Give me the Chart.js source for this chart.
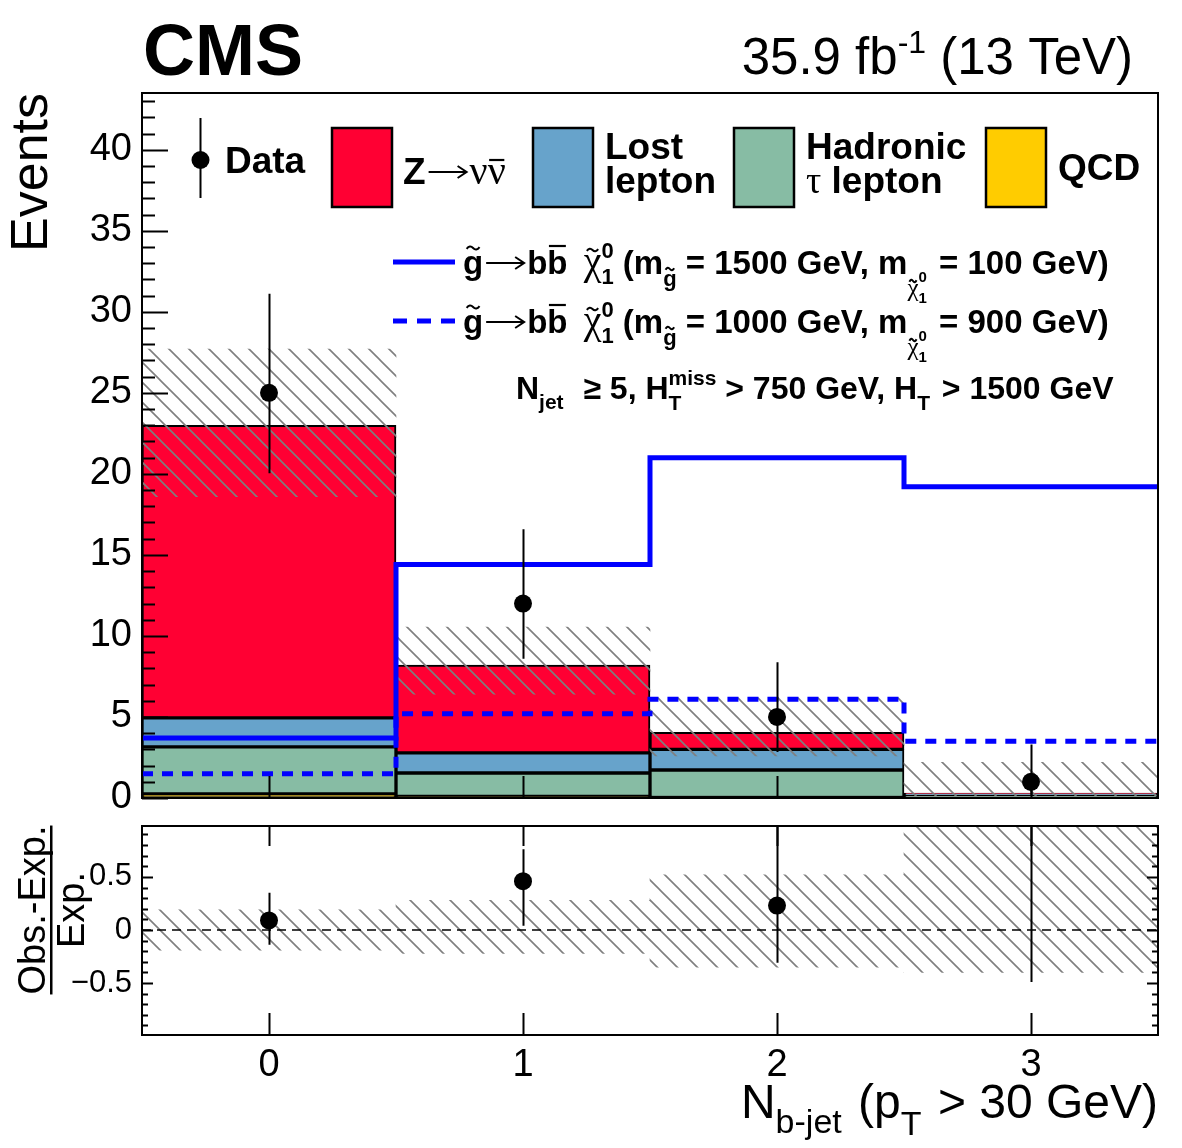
<!DOCTYPE html>
<html>
<head>
<meta charset="utf-8">
<title>N b-jet</title>
<script src="https://cdn.jsdelivr.net/npm/chart.js@4.4.1/dist/chart.umd.min.js"></script>
<style>
  body { margin: 0; background: #fff; }
  #wrap { position: relative; width: 1182px; height: 1148px; }
  canvas { position: absolute; left: 0; display: block; }
  #main { top: 0; }
  #ratio { top: 790px; }
</style>
</head>
<body>
<div id="wrap">
<canvas id="main" width="1182" height="840"></canvas>
<canvas id="ratio" width="1182" height="358"></canvas>
</div>
<script>
'use strict';

// bins (N b-jet)
const bins = [0, 1, 2, 3];

// background stack, bottom to top
const qcd = [0.25, 0.1, 0.03, 0.02];
const hadTau = [2.9, 1.44, 1.7, 0.15];
const lostLep = [1.79, 1.24, 1.27, 0.08];
const zinv = [18.06, 5.42, 1.05, 0.06];

// total background uncertainty band
const bkgUncLo = [18.6, 6.4, 2.6, 0.15];
const bkgUncHi = [27.7, 10.55, 6.2, 2.2];

// observed data with asymmetric errors
const dataObs = [25, 12, 5, 1];
const dataErrLo = [4.96, 3.41, 2.16, 0.83];
const dataErrHi = [6.11, 4.58, 3.38, 2.3];

// signal models
const sigSolid = [3.7, 14.4, 21.0, 19.2];
const sigDashed = [1.5, 5.2, 6.1, 3.5];
const sigMassGluino = ['1500', '1000'];
const sigMassLsp = ['100', '900'];

// ratio panel (Obs.-Exp.)/Exp.
const ratioObs = [0.09, 0.46, 0.23, 2.0];
const ratioErrLo = [0.23, 0.42, 0.54, 2.49];
const ratioErrHi = [0.26, 0.3, 0.87, 2.5];
const ratioUncLo = [-0.19, -0.22, -0.35, -0.4];
const ratioUncHi = [0.19, 0.28, 0.52, 1.5];

const SANS_FAMILY = '"Liberation Sans", Arial, Helvetica, sans-serif';
const SERIF_FAMILY = '"Liberation Serif", "DejaVu Serif", serif';
const B = n => `bold ${n}px ${SANS_FAMILY}`;
const N = n => `${n}px ${SANS_FAMILY}`;
const S = n => `${n}px ${SERIF_FAMILY}`;

const RATIO_TOP = 790; // page offset of the ratio canvas

// grey ROOT-like hatch
function makeHatch() {
    const c = document.createElement('canvas');
    c.width = 20; c.height = 20;
    const g = c.getContext('2d');
    g.strokeStyle = '#7f7f7f';
    g.lineWidth = 1.6;
    g.beginPath();
    g.moveTo(-5, -5); g.lineTo(25, 25);
    g.moveTo(-5, 15); g.lineTo(5, 25);
    g.moveTo(15, -5); g.lineTo(25, 5);
    g.stroke();
    return g.createPattern(c, 'repeat');
}
const hatch = makeHatch();

function stackRanges(layers) {
    const base = bins.map(() => 0);
    return layers.map(layer => bins.map((b, i) => {
        const lo = base[i];
        base[i] += layer[i];
        return { x: b, y: [lo, base[i]] };
    }));
}
const [rQcd, rTau, rLost, rZ] = stackRanges([qcd, hadTau, lostLep, zinv]);

const steps = vals => bins.flatMap((b, i) => [{ x: b - 0.5, y: vals[i] }, { x: b + 0.5, y: vals[i] }]);
const band = (lo, hi) => bins.map((b, i) => ({ x: b, y: [lo[i], hi[i]] }));
const points = vals => bins.map((b, i) => ({ x: b, y: vals[i] }));

function bar(data, color, order, extra) {
    return Object.assign({
        type: 'bar', data, backgroundColor: color, borderColor: '#000', borderWidth: 2,
        borderSkipped: false, grouped: false, barPercentage: 1, categoryPercentage: 1, order
    }, extra);
}

// --- text helpers ---
function accent(ctx, kind, x, y, w) {
    ctx.save();
    ctx.strokeStyle = '#000';
    ctx.lineWidth = kind === 'bar' ? 2.2 : 2;
    ctx.beginPath();
    if (kind === 'bar') {
        ctx.moveTo(x + w * 0.08, y); ctx.lineTo(x + w * 0.92, y);
    } else {
        const a = x + w * 0.18, b = x + w * 0.82, m = (a + b) / 2, h = Math.max(2, w * 0.12);
        ctx.moveTo(a, y + h * 0.4);
        ctx.quadraticCurveTo((a + m) / 2, y - h * 1.4, m, y);
        ctx.quadraticCurveTo((m + b) / 2, y + h * 1.4, b, y - h * 0.4);
    }
    ctx.stroke();
    ctx.restore();
}

function arrow(ctx, x, y, w) {
    ctx.save();
    ctx.strokeStyle = '#000';
    ctx.lineWidth = 2;
    ctx.beginPath();
    ctx.moveTo(x + 3, y); ctx.lineTo(x + w - 3, y);
    ctx.moveTo(x + w - 12, y - 6); ctx.lineTo(x + w - 3, y); ctx.lineTo(x + w - 12, y + 6);
    ctx.stroke();
    ctx.restore();
}

function rich(ctx, parts, x, y, align) {
    let w = 0;
    parts.forEach(p => {
        if (p.arrow) { p.w = p.arrow; p.t = ''; p.f = N(10); }
        ctx.font = p.f;
        if (!p.arrow) p.w = ctx.measureText(p.t).width;
        if (!p.stay) w += p.w + (p.gap || 0);
    });
    let cx = align === 'right' ? x - w : align === 'center' ? x - w / 2 : x;
    ctx.textAlign = 'left';
    ctx.textBaseline = 'alphabetic';
    parts.forEach(p => {
        ctx.font = p.f;
        const by = y + (p.dy || 0);
        if (p.arrow) arrow(ctx, cx, by - p.ay, p.w);
        else ctx.fillText(p.t, cx, by);
        if (p.acc) accent(ctx, p.acc, cx, by - p.ay, p.w);
        if (!p.stay) cx += p.w + (p.gap || 0);
    });
    return w;
}

function sigParts(mg, mlsp) {
    return [
        { t: 'g', f: B(33), acc: 'tilde', ay: 26 },
        { arrow: 44, ay: 11 },
        { t: 'b', f: B(33) },
        { t: 'b', f: B(33), acc: 'bar', ay: 28 },
        { t: ' ', f: B(33), gap: 7 },
        { t: 'χ', f: S(40), acc: 'tilde', ay: 24 },
        { t: '1', f: B(22), dy: 10, stay: true },
        { t: '0', f: B(22), dy: -16 },
        { t: ' (m', f: B(33) },
        { t: 'g', f: B(22), dy: 12, acc: 'tilde', ay: 17 },
        { t: ' = ' + mg + ' GeV, m', f: B(33) },
        { t: 'χ', f: S(25), dy: 22, acc: 'tilde', ay: 15 },
        { t: '1', f: B(15), dy: 29, stay: true },
        { t: '0', f: B(15), dy: 8, gap: 3 },
        { t: ' = ' + mlsp + ' GeV)', f: B(33) }
    ];
}

// --- frame + ROOT style inner ticks ---
function framePlugin(o) {
    return {
        id: 'rootFrame',
        afterDatasetsDraw(chart) {
            const { ctx, chartArea: a, scales: { x, y } } = chart;
            ctx.save();
            ctx.strokeStyle = '#000';
            ctx.lineWidth = 2;
            ctx.beginPath();
            y.ticks.forEach(t => {
                const py = Math.round(y.getPixelForValue(t.value)) + 0.5;
                const r = t.value / o.majorStep;
                const len = Math.abs(r - Math.round(r)) < 1e-6 ? o.yMajor : o.yMinor;
                ctx.moveTo(a.left, py); ctx.lineTo(a.left + len, py);
                if (o.right) { ctx.moveTo(a.right, py); ctx.lineTo(a.right - len, py); }
            });
            x.ticks.forEach(t => {
                const px = Math.round(x.getPixelForValue(t.value)) + 0.5;
                ctx.moveTo(px, a.bottom); ctx.lineTo(px, a.bottom - o.xLen);
                if (o.xTop) { ctx.moveTo(px, a.top); ctx.lineTo(px, a.top + o.xTop); }
            });
            ctx.stroke();
            ctx.strokeRect(a.left, a.top, a.right - a.left, a.bottom - a.top);
            ctx.restore();
        }
    };
}

function errBarPlugin(vals, lo, hi) {
    return {
        id: 'errBars',
        afterDatasetsDraw(chart) {
            const { ctx, chartArea: a, scales: { x, y } } = chart;
            ctx.save();
            ctx.beginPath();
            ctx.rect(a.left, a.top, a.right - a.left, a.bottom - a.top);
            ctx.clip();
            ctx.strokeStyle = '#000';
            ctx.lineWidth = 2;
            ctx.beginPath();
            bins.forEach((b, i) => {
                const px = Math.round(x.getPixelForValue(b)) + 0.5;
                ctx.moveTo(px, y.getPixelForValue(vals[i] - lo[i]));
                ctx.lineTo(px, y.getPixelForValue(vals[i] + hi[i]));
            });
            ctx.stroke();
            ctx.restore();
        }
    };
}

const mainDecor = {
    id: 'mainDecor',
    afterDraw(chart) {
        const ctx = chart.ctx;
        ctx.save();
        ctx.fillStyle = '#000';

        // header
        rich(ctx, [{ t: 'CMS', f: B(72) }], 143, 75);
        rich(ctx, [
            { t: '35.9 fb', f: N(51) },
            { t: '-1', f: N(32), dy: -21 },
            { t: ' (13 TeV)', f: N(51) }
        ], 1133, 74, 'right');

        // y title
        ctx.save();
        ctx.translate(47, 93);
        ctx.rotate(-Math.PI / 2);
        ctx.font = N(52);
        ctx.textAlign = 'right';
        ctx.fillText('Events', 0, 0);
        ctx.restore();

        // legend: data
        ctx.strokeStyle = '#000';
        ctx.lineWidth = 2;
        ctx.beginPath(); ctx.moveTo(200.5, 118); ctx.lineTo(200.5, 198); ctx.stroke();
        ctx.beginPath(); ctx.arc(200.5, 160, 9, 0, Math.PI * 2); ctx.fill();
        rich(ctx, [{ t: 'Data', f: B(37) }], 225, 173);

        // legend: boxes
        const box = (x, color) => {
            ctx.fillStyle = color;
            ctx.fillRect(x, 128, 60, 79);
            ctx.lineWidth = 2.5;
            ctx.strokeStyle = '#000';
            ctx.strokeRect(x, 128, 60, 79);
            ctx.fillStyle = '#000';
        };
        box(332, '#ff0033');
        rich(ctx, [
            { t: 'Z', f: B(37) },
            { arrow: 44, ay: 12 },
            { t: 'ν', f: S(40) },
            { t: 'ν', f: S(40), acc: 'bar', ay: 24 }
        ], 403, 184);
        box(533, '#67a3cb');
        rich(ctx, [{ t: 'Lost', f: B(37) }], 605, 159);
        rich(ctx, [{ t: 'lepton', f: B(37) }], 605, 193);
        box(734, '#87bca4');
        rich(ctx, [{ t: 'Hadronic', f: B(37) }], 806, 159);
        rich(ctx, [{ t: 'τ', f: S(38) }, { t: ' lepton', f: B(37) }], 806, 193);
        box(986, '#ffcc00');
        rich(ctx, [{ t: 'QCD', f: B(37) }], 1058, 180);

        // legend: signal lines
        ctx.strokeStyle = '#0000ff';
        ctx.lineWidth = 5;
        ctx.beginPath(); ctx.moveTo(393, 262); ctx.lineTo(455, 262); ctx.stroke();
        ctx.setLineDash([14, 10]);
        ctx.beginPath(); ctx.moveTo(393, 321); ctx.lineTo(456, 321); ctx.stroke();
        ctx.setLineDash([]);
        rich(ctx, sigParts(sigMassGluino[0], sigMassLsp[0]), 463, 274);
        rich(ctx, sigParts(sigMassGluino[1], sigMassLsp[1]), 463, 333);

        // selection
        rich(ctx, [
            { t: 'N', f: B(32) },
            { t: 'jet', f: B(21), dy: 10, gap: 2 },
            { t: '  ≥ 5, H', f: B(32) },
            { t: 'T', f: B(21), dy: 11, stay: true },
            { t: 'miss', f: B(21), dy: -14 },
            { t: ' > 750 GeV, H', f: B(32) },
            { t: 'T', f: B(21), dy: 11, gap: 3 },
            { t: ' > 1500 GeV', f: B(32) }
        ], 516, 399);
        ctx.restore();
    }
};

const ratioDecor = {
    id: 'ratioDecor',
    afterDraw(chart) {
        const ctx = chart.ctx;
        ctx.save();
        ctx.fillStyle = '#000';
        // x title
        rich(ctx, [
            { t: 'N', f: N(48) },
            { t: 'b-jet', f: N(34), dy: 15, gap: 3 },
            { t: ' (p', f: N(48) },
            { t: 'T', f: N(34), dy: 17, gap: 3 },
            { t: ' > 30 GeV)', f: N(48) }
        ], 1158, 1118 - RATIO_TOP, 'right');
        // y title as fraction
        const cy = 910 - RATIO_TOP;
        ctx.font = N(38);
        const w = ctx.measureText('Obs.-Exp.').width;
        ctx.save();
        ctx.translate(45, cy);
        ctx.rotate(-Math.PI / 2);
        ctx.textAlign = 'center';
        ctx.fillText('Obs.-Exp.', 0, 0);
        ctx.restore();
        ctx.save();
        ctx.translate(84, cy);
        ctx.rotate(-Math.PI / 2);
        ctx.font = N(38);
        ctx.textAlign = 'center';
        ctx.fillText('Exp.', 0, 0);
        ctx.restore();
        ctx.fillRect(50, cy - w / 2, 2.5, w);
        ctx.restore();
    }
};

const fontTicks = size => ({ family: SANS_FAMILY, size });

new Chart(document.getElementById('main'), {
    type: 'bar',
    data: {
        datasets: [
            bar(rQcd, '#ffcc00', 9),
            bar(rTau, '#87bca4', 8),
            bar(rLost, '#67a3cb', 7),
            bar(rZ, '#ff0033', 6),
            bar(band(bkgUncLo, bkgUncHi), hatch, 5, { borderWidth: 0 }),
            { type: 'line', data: steps(sigSolid), borderColor: '#0000ff', borderWidth: 5, pointRadius: 0, order: 4 },
            { type: 'line', data: steps(sigDashed), borderColor: '#0000ff', borderWidth: 5, borderDash: [11, 9], pointRadius: 0, order: 3 },
            { type: 'line', data: points(dataObs), showLine: false, pointRadius: 9, pointBackgroundColor: '#000', pointBorderWidth: 0, order: 0 }
        ]
    },
    options: {
        responsive: false,
        animation: false,
        devicePixelRatio: 1,
        events: [],
        layout: { padding: { top: 93, right: 24, bottom: 42, left: 0 } },
        plugins: { legend: { display: false }, tooltip: { enabled: false } },
        scales: {
            x: {
                type: 'linear', min: -0.5, max: 3.5, offset: false,
                grid: { display: false }, border: { display: false },
                ticks: { display: false },
                afterBuildTicks: s => { s.ticks = bins.map(v => ({ value: v })); },
                afterFit: s => { s.height = 0; }
            },
            y: {
                min: 0, max: 43.5,
                grid: { display: false }, border: { display: false },
                ticks: {
                    stepSize: 1, autoSkip: false, maxTicksLimit: 1000, includeBounds: false,
                    padding: 2, color: '#000', font: fontTicks(38),
                    callback: v => (v % 5 === 0 ? String(v) : '')
                },
                afterFit: s => { s.width = 142; }
            }
        }
    },
    plugins: [
        framePlugin({ majorStep: 5, yMajor: 26, yMinor: 13, right: false, xLen: 22, xTop: 0 }),
        errBarPlugin(dataObs, dataErrLo, dataErrHi),
        mainDecor
    ]
});

new Chart(document.getElementById('ratio'), {
    type: 'bar',
    data: {
        datasets: [
            bar(band(ratioUncLo, ratioUncHi), hatch, 5, { borderWidth: 0, clip: 0 }),
            { type: 'line', data: [{ x: -0.5, y: 0 }, { x: 3.5, y: 0 }], borderColor: '#000', borderWidth: 1.5, borderDash: [9, 6], pointRadius: 0, order: 2, clip: 0 },
            { type: 'line', data: points(ratioObs), showLine: false, pointRadius: 9, pointBackgroundColor: '#000', pointBorderWidth: 0, order: 0, clip: 0 }
        ]
    },
    options: {
        responsive: false,
        animation: false,
        devicePixelRatio: 1,
        events: [],
        layout: { padding: { top: 826 - RATIO_TOP, right: 24, bottom: 0, left: 0 } },
        plugins: { legend: { display: false }, tooltip: { enabled: false } },
        scales: {
            x: {
                type: 'linear', min: -0.5, max: 3.5, offset: false,
                grid: { display: false }, border: { display: false },
                ticks: { padding: 0, color: '#000', font: fontTicks(38), maxRotation: 0, callback: v => String(v) },
                afterBuildTicks: s => { s.ticks = bins.map(v => ({ value: v })); },
                afterFit: s => { s.height = 113; }
            },
            y: {
                min: -0.99, max: 0.98,
                grid: { display: false }, border: { display: false },
                ticks: {
                    stepSize: 0.1, autoSkip: false, maxTicksLimit: 1000, includeBounds: false,
                    padding: 2, color: '#000', font: fontTicks(31),
                    callback: v => {
                        const k = v * 2;
                        if (Math.abs(k - Math.round(k)) > 1e-6) return '';
                        if (Math.abs(v) < 1e-9) return '0';
                        return v < 0 ? '\u2212' + Math.abs(v) : String(v);
                    }
                },
                afterFit: s => { s.width = 142; }
            }
        }
    },
    plugins: [
        framePlugin({ majorStep: 0.5, yMajor: 11, yMinor: 6, right: true, xLen: 22, xTop: 20 }),
        errBarPlugin(ratioObs, ratioErrLo, ratioErrHi),
        ratioDecor
    ]
});
</script>
</body>
</html>
